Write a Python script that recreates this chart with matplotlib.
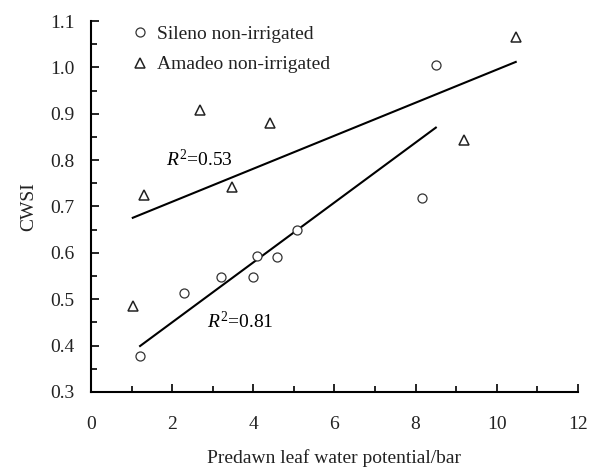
import numpy as np
import matplotlib.pyplot as plt
from matplotlib.ticker import MultipleLocator

plt.rcParams['font.family'] = ['Liberation Serif', 'DejaVu Serif']
plt.rcParams['mathtext.fontset'] = 'custom'
plt.rcParams['mathtext.it'] = 'Liberation Serif:italic'
plt.rcParams['mathtext.rm'] = 'Liberation Serif'

# Sileno non-irrigated
sileno_x = [1.21, 2.29, 3.2, 3.99, 4.09, 4.58, 5.07, 8.15, 8.5]
sileno_y = [0.378, 0.513, 0.547, 0.549, 0.594, 0.592, 0.65, 0.719, 1.005]
# Amadeo non-irrigated
amadeo_x = [1.03, 1.3, 2.69, 3.47, 4.41, 9.19, 10.47]
amadeo_y = [0.485, 0.724, 0.908, 0.743, 0.880, 0.844, 1.065]

# fitted lines (slope, intercept, x range)
sileno_fit = (0.0646, 0.321, [1.21, 8.5])
amadeo_fit = (0.0356, 0.639, [1.03, 10.47])

fig = plt.figure(figsize=(5.89, 4.72), dpi=100)
ax = fig.add_axes([0.1545, 0.1695, 0.8265, 0.786])

ax.plot(sileno_x, sileno_y, 'o', mfc='white', mec='#333333', ms=6.5, mew=0.9,
        label='Sileno non-irrigated', zorder=3)
ax.plot(amadeo_x, amadeo_y, '^', mfc='white', mec='#222222', ms=6.5, mew=1.1,
        label='Amadeo non-irrigated', zorder=3)

for slope, icpt, xr in (sileno_fit, amadeo_fit):
    xs = np.array(xr)
    ax.plot(xs, slope * xs + icpt, color='black', lw=1.5, zorder=2)

ax.text(1.85, 0.787, r'$R^2$=0.53', fontsize=14)
ax.text(2.85, 0.437, r'$R^2$=0.81', fontsize=14)

ax.set_xlim(0, 12)
ax.set_ylim(0.3, 1.1)
ax.xaxis.set_major_locator(MultipleLocator(2))
ax.xaxis.set_minor_locator(MultipleLocator(1))
ax.yaxis.set_major_locator(MultipleLocator(0.1))
ax.yaxis.set_minor_locator(MultipleLocator(0.05))
ax.yaxis.set_major_formatter(plt.FormatStrFormatter('%.1f'))

for s in ('top', 'right'):
    ax.spines[s].set_visible(False)
for s in ('left', 'bottom'):
    ax.spines[s].set_linewidth(1.5)

ax.tick_params(axis='both', which='major', direction='in', length=6, width=1.2,
               labelsize=14, labelcolor='#222222')
ax.tick_params(axis='both', which='minor', direction='in', length=4, width=1.2)
ax.tick_params(axis='x', which='major', pad=17)
ax.tick_params(axis='y', which='major', pad=12)

ax.set_xlabel('Predawn leaf water potential/bar', fontsize=14, labelpad=12, color='#222222')
ax.set_ylabel('CWSI', fontsize=14, labelpad=9, color='#222222')

ax.legend(loc='upper left', bbox_to_anchor=(0.04, 1.035), frameon=False, fontsize=14,
          labelspacing=0.65, handletextpad=0.3, handlelength=1.2, labelcolor='#222222')

fig.savefig('out.png', dpi=100)
